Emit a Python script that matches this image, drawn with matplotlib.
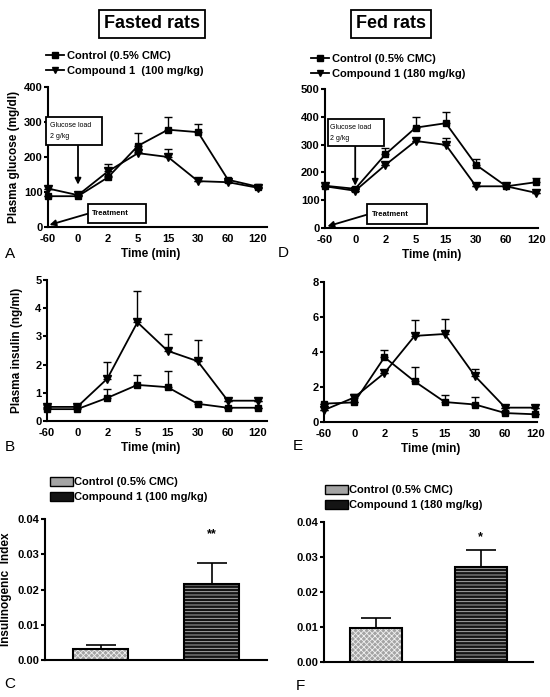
import matplotlib.pyplot as plt
import numpy as np
from matplotlib.patches import Rectangle, Patch
from matplotlib.lines import Line2D

plt.rcParams['font.family'] = ['Liberation Sans', 'DejaVu Sans']
plt.rcParams['font.weight'] = 'bold'
plt.rcParams['axes.labelweight'] = 'bold'
plt.rcParams['hatch.linewidth'] = 0.6

times = ['-60', '0', '2', '5', '15', '30', '60', '120']

# plasma glucose (mg/dl), fasted rats
glc_fasted_ctrl = [88, 88, 142, 232, 278, 271, 135, 115]
glc_fasted_ctrl_err = [0, 0, 5, 36, 37, 23, 0, 0]
glc_fasted_cmp = [110, 91, 159, 211, 200, 131, 128, 112]
glc_fasted_cmp_err = [0, 0, 21, 4, 24, 0, 0, 0]

# plasma glucose (mg/dl), fed rats
glc_fed_ctrl = [152, 141, 265, 361, 377, 227, 150, 165]
glc_fed_ctrl_err = [0, 0, 24, 40, 42, 22, 0, 14]
glc_fed_cmp = [150, 134, 227, 313, 299, 150, 150, 126]
glc_fed_cmp_err = [0, 0, 0, 0, 24, 0, 0, 0]

# plasma insulin (ng/ml), fasted rats
ins_fasted_ctrl = [0.42, 0.42, 0.82, 1.28, 1.20, 0.61, 0.47, 0.47]
ins_fasted_ctrl_err = [0.05, 0.05, 0.32, 0.36, 0.56, 0.05, 0, 0]
ins_fasted_cmp = [0.50, 0.50, 1.50, 3.50, 2.49, 2.12, 0.72, 0.72]
ins_fasted_cmp_err = [0.05, 0.05, 0.58, 1.12, 0.59, 0.75, 0, 0]

# plasma insulin (ng/ml), fed rats
ins_fed_ctrl = [1.05, 1.12, 3.70, 2.32, 1.14, 1.00, 0.51, 0.44]
ins_fed_ctrl_err = [0, 0, 0.40, 0.80, 0.40, 0.44, 0.10, 0]
ins_fed_cmp = [0.68, 1.40, 2.80, 4.92, 5.03, 2.62, 0.82, 0.82]
ins_fed_cmp_err = [0, 0.20, 0, 0.92, 0.85, 0.42, 0, 0]

# insulinogenic index
idx_fasted = [0.0031, 0.0216]
idx_fasted_err = [0.0012, 0.0060]
idx_fed = [0.0097, 0.0271]
idx_fed_err = [0.0029, 0.0050]
stars_fasted = ['', '**']
stars_fed = ['', '*']

ctrl_label = 'Control (0.5% CMC)'
cmp_fasted_label = 'Compound 1  (100 mg/kg)'
cmp_fed_label = 'Compound 1 (180 mg/kg)'
cmp_fasted_bar_label = 'Compound 1 (100 mg/kg)'

CTRL_FILL = '#a4a4a4'
CMP_FILL = '#141414'

W, H = 550, 697
fig = plt.figure(figsize=(W / 100, H / 100), dpi=100)


def fax(left, top, right, bottom):
    # axes from pixel box
    return fig.add_axes([left / W, 1 - bottom / H, (right - left) / W, (bottom - top) / H])


def style(ax):
    for s in ['top', 'right']:
        ax.spines[s].set_visible(False)
    for s in ['left', 'bottom']:
        ax.spines[s].set_linewidth(1.5)
    ax.tick_params(axis='y', length=3, width=1.5, labelsize=8, pad=1)
    ax.tick_params(axis='x', length=0, labelsize=8, pad=5)


def line_panel(ax, ctrl, ctrl_err, cmp_, cmp_err, ylim, yticks, xmax):
    x = np.arange(len(times))
    z = np.zeros(len(x))
    ax.errorbar(x, ctrl, yerr=[z, ctrl_err], color='black', marker='s', ms=5,
                lw=1.3, elinewidth=1, capsize=2.8, capthick=1, clip_on=False, zorder=3)
    ax.errorbar(x, cmp_, yerr=[z, cmp_err], color='black', marker='v', ms=5.5,
                lw=1.3, elinewidth=1, capsize=2.8, capthick=1, clip_on=False, zorder=3)
    ax.set_xlim(0, xmax)
    ax.set_ylim(*ylim)
    ax.set_yticks(yticks)
    ax.set_xticks(x)
    ax.set_xticklabels(times)
    ax.set_xlabel('Time (min)', fontsize=8.5, labelpad=3)
    style(ax)


def annotations(ax, gbox, gtext, garrow, tbox, ttext, tarrow):
    ax.add_patch(Rectangle((gbox[0], gbox[1]), gbox[2] - gbox[0], gbox[3] - gbox[1],
                           fc='white', ec='black', lw=1.3, clip_on=False, zorder=4))
    ax.text(gtext[0], gtext[1], 'Glucose load\n2 g/kg', fontsize=5, weight='normal',
            va='top', ha='left', linespacing=1.7, zorder=5)
    ax.annotate('', xy=garrow[1], xytext=garrow[0],
                arrowprops=dict(arrowstyle='-|>', color='black', lw=1.3, mutation_scale=9,
                                shrinkA=0, shrinkB=0), annotation_clip=False)
    ax.add_patch(Rectangle((tbox[0], tbox[1]), tbox[2] - tbox[0], tbox[3] - tbox[1],
                           fc='white', ec='black', lw=1.3, clip_on=False, zorder=4))
    ax.text(ttext[0], ttext[1], 'Treatment', fontsize=5.5, va='center', ha='left', zorder=5)
    ax.annotate('', xy=tarrow[1], xytext=tarrow[0],
                arrowprops=dict(arrowstyle='-|>', color='black', lw=1.3, mutation_scale=9,
                                shrinkA=0, shrinkB=0), annotation_clip=False)


def bar_panel(ax, vals, errs, stars, cmp_lab, legend_anchor):
    x = np.arange(len(vals))
    ax.bar(x[0], vals[0], width=0.5, color=CTRL_FILL, edgecolor='#f0f0f0', hatch='xxxxxx', lw=0)
    ax.bar(x[1], vals[1], width=0.5, color=CMP_FILL, edgecolor='#bdbdbd', hatch='-----', lw=0)
    ax.bar(x, vals, width=0.5, fill=False, edgecolor='black', lw=1.5)
    ax.errorbar(x, vals, yerr=[np.zeros(len(x)), errs], fmt='none', ecolor='black',
                elinewidth=1.2, capsize=11, capthick=1.2)
    for xi, s in zip(x, stars):
        if s:
            ax.text(xi, 0.0358, s, ha='center', va='center', fontsize=9)
    ax.set_xlim(-0.5, 1.5)
    ax.set_ylim(0, 0.04)
    ax.set_yticks([0, 0.01, 0.02, 0.03, 0.04])
    ax.set_yticklabels(['0.00', '0.01', '0.02', '0.03', '0.04'])
    ax.set_xticks([])
    style(ax)
    h = [Patch(facecolor=CTRL_FILL, edgecolor='black', lw=1),
         Patch(facecolor=CMP_FILL, edgecolor='black', lw=1)]
    fig.legend(h, [ctrl_label, cmp_lab], loc='upper left', bbox_to_anchor=legend_anchor,
               frameon=False, fontsize=8, handlelength=2.1, handleheight=0.8,
               handletextpad=0.1, labelspacing=0.45, borderpad=0, borderaxespad=0)


def line_legend(cmp_lab, anchor):
    h = [Line2D([], [], color='black', marker='s', ms=4.5, lw=1.3),
         Line2D([], [], color='black', marker='v', ms=5, lw=1.3)]
    fig.legend(h, [ctrl_label, cmp_lab], loc='upper left', bbox_to_anchor=anchor,
               frameon=False, fontsize=8, handlelength=1.6, handletextpad=0.3,
               labelspacing=0.45, borderpad=0, borderaxespad=0)


# titles
box = dict(boxstyle='square,pad=0.28', fc='white', ec='black', lw=1.3)
fig.text(152 / W, 1 - 24 / H, 'Fasted rats', ha='center', va='center', fontsize=13, bbox=box)
fig.text(391 / W, 1 - 24 / H, 'Fed rats', ha='center', va='center', fontsize=13, bbox=box)
line_legend(cmp_fasted_label, (46 / W, 1 - 51 / H))
line_legend(cmp_fed_label, (311 / W, 1 - 54 / H))

# A
axA = fax(48, 87, 267, 227)
line_panel(axA, glc_fasted_ctrl, glc_fasted_ctrl_err, glc_fasted_cmp, glc_fasted_cmp_err,
           (0, 400), [0, 100, 200, 300, 400], 7.3)
axA.set_ylabel('Plasma glucose (mg/dl)', fontsize=8.5, labelpad=3)
axA.xaxis.label.set_x(0.47)
annotations(axA, (-0.07, 233, 1.8, 313), (0.05, 299), ((1, 233), (1, 121)),
            (1.33, 11, 3.27, 66), (1.47, 38), ((1.33, 38), (0.05, 6)))

# D
axD = fax(325, 89, 538, 228)
line_panel(axD, glc_fed_ctrl, glc_fed_ctrl_err, glc_fed_cmp, glc_fed_cmp_err,
           (0, 500), [0, 100, 200, 300, 400, 500], 7.05)
annotations(axD, (0.1, 295, 1.95, 392), (0.18, 374), ((1, 295), (1, 152)),
            (1.39, 16, 3.38, 86), (1.55, 50), ((1.39, 48), (0.08, 6)))

# B
axB = fax(47, 280, 267, 421)
line_panel(axB, ins_fasted_ctrl, ins_fasted_ctrl_err, ins_fasted_cmp, ins_fasted_cmp_err,
           (0, 5), [0, 1, 2, 3, 4, 5], 7.3)
axB.set_ylabel('Plasma insulin (ng/ml)', fontsize=8.5, labelpad=9)
axB.xaxis.label.set_x(0.47)

# E
axE = fax(324, 282, 537, 422)
line_panel(axE, ins_fed_ctrl, ins_fed_ctrl_err, ins_fed_cmp, ins_fed_cmp_err,
           (0, 8), [0, 2, 4, 6, 8], 7.05)

# C
axC = fax(45, 519, 267, 660)
bar_panel(axC, idx_fasted, idx_fasted_err, stars_fasted, cmp_fasted_bar_label, (50 / W, 1 - 477 / H))
axC.set_ylabel('Insulinogenic  Index', fontsize=8.5, labelpad=4)

# F
axF = fax(324, 522, 533, 662)
bar_panel(axF, idx_fed, idx_fed_err, stars_fed, cmp_fed_label, (325 / W, 1 - 485 / H))

for lab, px, py in [('A', 10, 254), ('D', 283, 253), ('B', 10, 447), ('E', 298, 446),
                    ('C', 10, 684), ('F', 300, 686)]:
    fig.text(px / W, 1 - py / H, lab, fontsize=11, weight='normal', ha='center', va='center')

fig.savefig('out.png', dpi=100)
